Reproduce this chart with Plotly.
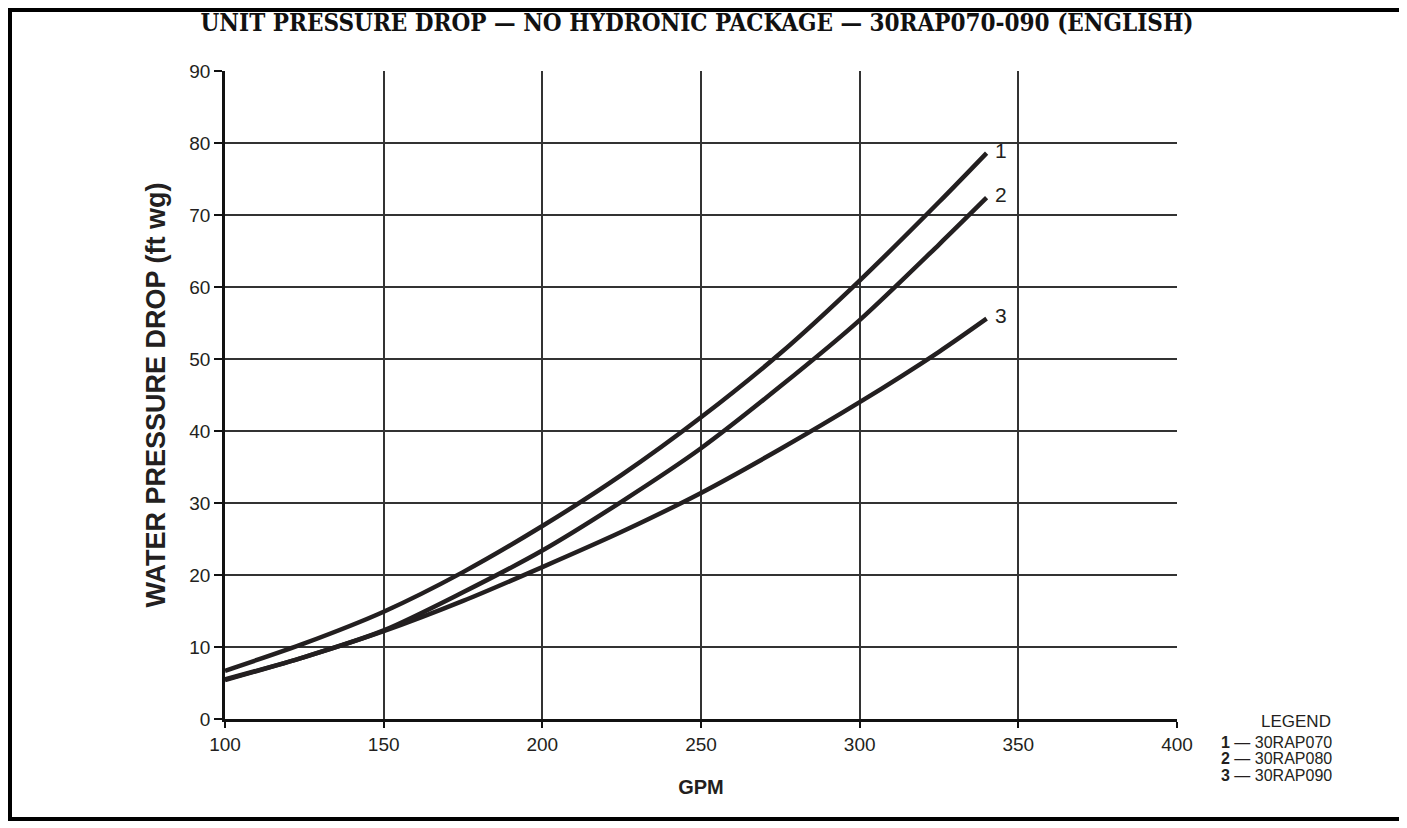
import plotly.graph_objects as go

gpm = [100, 125, 150, 175, 200, 225, 250, 275, 300, 325, 340]
rap070 = [6.7, 10.5, 14.9, 20.4, 26.8, 33.9, 41.9, 50.8, 60.9, 71.8, 78.6]
rap080 = [5.5, 8.6, 12.3, 17.6, 23.4, 30.2, 37.6, 46.2, 55.4, 65.9, 72.4]
rap090 = [5.4, 8.6, 12.2, 16.4, 21.1, 26.0, 31.4, 37.5, 44.0, 51.0, 55.6]
series = [("1", "30RAP070", rap070), ("2", "30RAP080", rap080), ("3", "30RAP090", rap090)]

x_ticks = [100, 150, 200, 250, 300, 350, 400]
y_ticks = [0, 10, 20, 30, 40, 50, 60, 70, 80, 90]

LINE = "#231f20"
GRID = "#333333"

# page has an 8px body margin; figure coordinates = page coordinates - 8
OFF = 8
W, H = 1407 - OFF, 828 - OFF
L, T = 225 - OFF, 71 - OFF
PW, PH = 952, 648
R, B = W - L - PW, H - T - PH


def px_x(page_x):
    return (page_x - 225) / PW


def px_y(page_y):
    return (719 - page_y) / PH


fig = go.Figure()
for num, name, vals in series:
    fig.add_trace(go.Scatter(x=gpm, y=vals, mode="lines", name=name,
                             line=dict(color=LINE, width=4.5, shape="spline", smoothing=0.8),
                             showlegend=False))
    fig.add_annotation(x=gpm[-1], y=vals[-1], text=num, showarrow=False,
                       xanchor="left", yanchor="middle", xshift=6, yshift=3,
                       font=dict(family="Liberation Sans, Arial", size=21, color="#231f20"))

fig.update_layout(
    width=W, height=H,
    margin=dict(l=L, r=R, t=T, b=B),
    paper_bgcolor="white", plot_bgcolor="white",
    title=dict(text="<b>UNIT PRESSURE DROP — NO HYDRONIC PACKAGE — 30RAP070-090 (ENGLISH)</b>",
               x=(697 - OFF) / W, xanchor="center", y=1 - (23 - OFF) / H, yanchor="middle",
               yref="container",
               font=dict(family="DejaVu Serif Condensed, DejaVu Serif, serif", size=24, color="#111")),
    font=dict(family="Liberation Sans, Arial", size=19, color="#231f20"),
)
fig.update_xaxes(range=[100, 400], tickvals=x_ticks, showgrid=True, gridcolor=GRID, gridwidth=2,
                 zeroline=False, showline=True, linecolor="#111", linewidth=2.5,
                 ticks="outside", ticklen=6, tickcolor="#111", tickwidth=2,
                 tickfont=dict(size=19),
                 title=dict(text="<b>GPM</b>", font=dict(size=20), standoff=27))
fig.update_yaxes(range=[0, 90], tickvals=y_ticks, showgrid=True, gridcolor=GRID, gridwidth=2,
                 zeroline=False, showline=True, linecolor="#111", linewidth=2.5,
                 ticks="outside", ticklen=8, tickcolor="#111", tickwidth=2,
                 tickfont=dict(size=19),
                 title=dict(text="<b>WATER PRESSURE DROP (ft wg)</b>", font=dict(size=27), standoff=16))

# outer frame
fig.add_shape(type="rect", xref="paper", yref="paper",
              x0=px_x(OFF + 2), x1=px_x(1404),
              y0=px_y(819), y1=px_y(OFF + 2),
              line=dict(color="black", width=4), fillcolor="rgba(0,0,0,0)", layer="above")

# legend text block
fig.add_annotation(xref="paper", yref="paper", x=px_x(1296), y=px_y(721),
                   text="LEGEND", showarrow=False, xanchor="center", yanchor="middle",
                   font=dict(size=17))
for i, (num, name, _) in enumerate(series):
    fig.add_annotation(xref="paper", yref="paper", x=px_x(1219), y=px_y(742 + 16.5 * i),
                       text=f"<b>{num}</b> — {name}", showarrow=False,
                       xanchor="left", yanchor="middle", align="left",
                       font=dict(size=16))

fig.write_html("out.html")
